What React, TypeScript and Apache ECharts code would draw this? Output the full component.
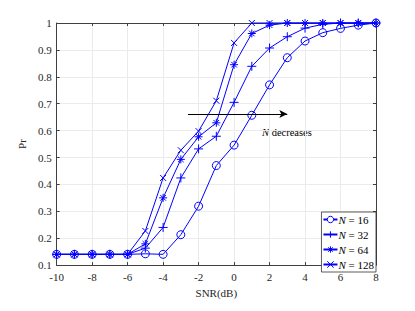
import React, { useEffect, useRef } from "react";
import * as echarts from "echarts";

const snr = [-10, -9, -8, -7, -6, -5, -4, -3, -2, -1, 0, 1, 2, 3, 4, 5, 6, 7, 8];
const n16 = [0.14, 0.14, 0.14, 0.14, 0.14, 0.142, 0.14, 0.213, 0.319, 0.47, 0.546, 0.657, 0.77, 0.871, 0.933, 0.964, 0.98, 0.992, 1.0];
const n32 = [0.14, 0.14, 0.14, 0.14, 0.14, 0.163, 0.24, 0.424, 0.532, 0.579, 0.705, 0.839, 0.907, 0.949, 0.981, 0.995, 1, 1, 1];
const n64 = [0.14, 0.14, 0.14, 0.14, 0.14, 0.179, 0.35, 0.493, 0.577, 0.629, 0.845, 0.961, 0.992, 1, 1, 1, 1, 1, 1];
const n128 = [0.14, 0.14, 0.14, 0.14, 0.14, 0.227, 0.424, 0.527, 0.598, 0.711, 0.926, 1, 1, 1, 1, 1, 1, 1, 1];
const seriesNames = ["N = 16", "N = 32", "N = 64", "N = 128"];
const seriesValues = [n16, n32, n64, n128];
const arrowFrom = [-2.6, 0.662];
const arrowTo = [3, 0.662];
const annotation = "decreases";

const FONT = "'Liberation Serif', 'DejaVu Serif', serif";
const BLUE = "#0000ff";
const AX = "#404040";

const symbols = [
  "circle",
  "path://M0,-1V1M-1,0H1",
  "path://M0,-1V1M-1,0H1M-0.7,-0.7L0.7,0.7M-0.7,0.7L0.7,-0.7",
  "path://M-1,-1L1,1M-1,1L1,-1",
];
const sizes = [8, 9, 8, 6];

export default function App() {
  const ref = useRef<HTMLDivElement>(null);
  useEffect(() => {
    const chart = echarts.init(ref.current!, undefined, { renderer: "svg" });
    const series: any[] = seriesValues.map((vals, i) => ({
      name: seriesNames[i],
      type: "line",
      data: snr.map((x, j) => [x, vals[j]]),
      symbol: symbols[i],
      symbolSize: sizes[i],
      clip: false,
      lineStyle: { color: BLUE, width: 1 },
      itemStyle: { color: i === 0 ? "none" : BLUE, borderColor: BLUE, borderWidth: 1 },
      emphasis: { disabled: true },
    }));
    series[0].markLine = {
      silent: true,
      symbol: ["none", "arrow"],
      symbolSize: [6, 8],
      label: { show: false },
      lineStyle: { color: "#000", width: 1.2, type: "solid" },
      data: [[{ coord: arrowFrom }, { coord: arrowTo }]],
    };
    chart.setOption({
      animation: false,
      backgroundColor: "#fff",
      grid: { left: 46, right: 31, top: 15, bottom: 27 },
      xAxis: [
        {
          type: "value",
          min: -10,
          max: 8,
          interval: 2,
          name: "SNR(dB)",
          nameLocation: "middle",
          nameGap: 20,
          nameTextStyle: { fontFamily: FONT, fontSize: 11, color: "#262626" },
          axisLine: { onZero: false, lineStyle: { color: AX, width: 1 } },
          axisTick: { inside: true, length: 3, lineStyle: { color: AX } },
          axisLabel: { fontFamily: FONT, fontSize: 11, color: "#262626", margin: 6 },
          splitLine: { show: true, lineStyle: { color: "#ebebeb", width: 1 } },
        },
        {
          type: "value",
          position: "top",
          min: -10,
          max: 8,
          interval: 2,
          axisLine: { show: true, onZero: false, lineStyle: { color: AX, width: 1 } },
          axisTick: { inside: true, length: 3, lineStyle: { color: AX } },
          axisLabel: { show: false },
          splitLine: { show: false },
        },
      ],
      yAxis: [
        {
          type: "value",
          min: 0.1,
          max: 1,
          interval: 0.1,
          name: "Pr",
          nameLocation: "middle",
          nameGap: 27,
          nameTextStyle: { fontFamily: FONT, fontSize: 11, color: "#262626" },
          axisLine: { show: true, onZero: false, lineStyle: { color: AX, width: 1 } },
          axisTick: { show: true, inside: true, length: 3, lineStyle: { color: AX } },
          axisLabel: {
            fontFamily: FONT,
            fontSize: 11,
            color: "#262626",
            margin: 5,
            formatter: (v: number) => String(parseFloat(v.toFixed(1))),
          },
          splitLine: { show: true, lineStyle: { color: "#ebebeb", width: 1 } },
        },
        {
          type: "value",
          position: "right",
          min: 0.1,
          max: 1,
          interval: 0.1,
          axisLine: { show: true, onZero: false, lineStyle: { color: AX, width: 1 } },
          axisTick: { show: true, inside: true, length: 3, lineStyle: { color: AX } },
          axisLabel: { show: false },
          splitLine: { show: false },
        },
      ],
      legend: {
        orient: "vertical",
        right: 31,
        bottom: 31,
        itemWidth: 14,
        itemHeight: 8,
        itemGap: 4,
        padding: [2, 2, 2, 1],
        backgroundColor: "#fff",
        borderColor: "#333",
        borderWidth: 0.8,
        borderRadius: 0,
        data: seriesNames.map((name, i) => ({
          name,
          itemStyle: { color: i === 0 ? "#fff" : BLUE, borderColor: BLUE, borderWidth: 1 },
        })),
        formatter: (name: string) => {
          const parts = name.split(" = ");
          return `{i|${parts[0]}}{n| = ${parts[1]}}`;
        },
        textStyle: {
          fontFamily: FONT,
          fontSize: 11,
          color: "#000",
          padding: [0, 0, 0, -4],
          rich: {
            i: { fontFamily: FONT, fontStyle: "italic", fontSize: 11, color: "#000" },
            n: { fontFamily: FONT, fontSize: 11, color: "#000" },
          },
        },
      },
      graphic: [
        {
          type: "text",
          left: 254,
          top: 119,
          style: {
            text: "{i|N} " + annotation,
            fontFamily: FONT,
            fontSize: 10.5,
            fill: "#000",
            rich: { i: { fontFamily: FONT, fontStyle: "italic", fontSize: 10.5, fill: "#000" } },
          },
        },
      ],
      series,
    });
    return () => chart.dispose();
  }, []);
  return <div ref={ref} style={{ width: 399, height: 295 }} />;
}
